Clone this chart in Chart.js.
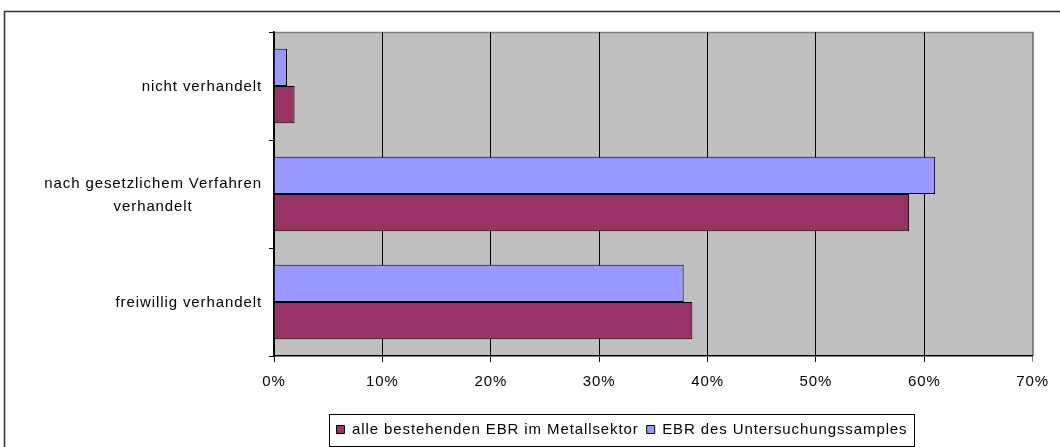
<!DOCTYPE html>
<html>
<head>
<meta charset="utf-8">
<script src="https://cdn.jsdelivr.net/npm/chart.js@4"></script>
<style>
  html, body { margin: 0; padding: 0; background: #fff; overflow: hidden; }
  #chart { display: block; }
</style>
</head>
<body>
<canvas id="chart" width="1060" height="447"></canvas>
<script>
// Kategorien (von oben nach unten)
const categories = [
    'nicht verhandelt',
    ['nach gesetzlichem Verfahren', 'verhandelt'],
    'freiwillig verhandelt'
];

// Werte in Prozent
const sampleValues = [1.2, 61.0, 37.8];   // EBR des Untersuchungssamples
const sectorValues = [1.9, 58.6, 38.6];   // alle bestehenden EBR im Metallsektor

const xTicks = [0, 10, 20, 30, 40, 50, 60, 70];

const FONT = "'Liberation Sans', Arial, sans-serif";
const SIZE = 15;
const SPACING = '0.9px';

// Hintergrund, Rahmen, Beschriftungen
const excelLook = {
    id: 'excelLook',
    beforeLayout(chart) {
        chart.ctx.letterSpacing = SPACING;
    },
    beforeDraw(chart) {
        const ctx = chart.ctx;
        const a = chart.chartArea;
        ctx.save();
        // äußerer Rahmen
        ctx.strokeStyle = '#303030';
        ctx.lineWidth = 1.5;
        ctx.strokeRect(4.5, 11.5, 1200, 600);
        // Zeichenfläche
        ctx.fillStyle = '#c0c0c0';
        ctx.fillRect(a.left, a.top, a.right - a.left, a.bottom - a.top);
        ctx.strokeStyle = '#808080';
        ctx.lineWidth = 1.5;
        ctx.beginPath();
        ctx.moveTo(a.left, a.top + 0.5);
        ctx.lineTo(a.right + 0.5, a.top + 0.5);
        ctx.lineTo(a.right + 0.5, a.bottom);
        ctx.stroke();
        ctx.restore();
        chart.ctx.letterSpacing = SPACING;
    },
    afterDraw(chart) {
        const ctx = chart.ctx;
        const y = chart.scales.y;
        ctx.save();
        ctx.letterSpacing = SPACING;
        ctx.font = SIZE + 'px ' + FONT;
        ctx.fillStyle = '#000';
        ctx.textAlign = 'center';
        ctx.textBaseline = 'middle';
        categories.forEach((label, i) => {
            const lines = Array.isArray(label) ? label : [label];
            const w = Math.max(...lines.map(l => ctx.measureText(l).width));
            const cx = y.right - 12 - w / 2;
            const cy = y.getPixelForTick(i) + 1;
            lines.forEach((l, j) => {
                ctx.fillText(l, cx, cy + (j - (lines.length - 1) / 2) * 23);
            });
        });
        // Legendenrahmen
        const hb = chart.legend.legendHitBoxes;
        if (hb && hb.length) {
            const first = hb[0], last = hb[hb.length - 1];
            const mid = first.top + first.height / 2;
            ctx.strokeStyle = '#000';
            ctx.lineWidth = 1;
            const l = Math.round(first.left - 7) + 0.5;
            const r = Math.round(last.left + last.width + 6) + 0.5;
            ctx.strokeRect(l, Math.round(mid - 16) + 0.5, r - l, 32);
        }
        ctx.restore();
    }
};

new Chart(document.getElementById('chart'), {
    type: 'bar',
    data: {
        labels: categories,
        datasets: [{
            label: 'EBR des Untersuchungssamples',
            data: sampleValues,
            backgroundColor: '#9999ff',
            borderColor: '#000',
            borderWidth: 1
        }, {
            label: 'alle bestehenden EBR im Metallsektor',
            data: sectorValues,
            backgroundColor: '#993366',
            borderColor: '#000',
            borderWidth: 1
        }]
    },
    options: {
        indexAxis: 'y',
        responsive: false,
        animation: false,
        categoryPercentage: 0.69,
        barPercentage: 1.0,
        layout: { padding: { top: 32, left: 209, right: 25, bottom: 0 } },
        scales: {
            x: {
                min: 0,
                max: 70,
                afterBuildTicks: s => { s.ticks = xTicks.map(v => ({ value: v })); },
                afterFit: s => { s.height = 58; },
                ticks: {
                    color: '#000',
                    padding: 11,
                    font: { family: FONT, size: SIZE },
                    callback: v => v + '%'
                },
                grid: {
                    color: c => (c.tick && c.tick.value === 70) ? '#808080' : '#000',
                    lineWidth: 1,
                    tickLength: 6
                },
                border: { color: '#000', width: 1.5 }
            },
            y: {
                afterFit: s => { s.width = 65; },
                ticks: { display: false },
                grid: {
                    drawOnChartArea: false,
                    drawTicks: true,
                    tickLength: 5,
                    color: '#000'
                },
                border: { color: '#000', width: 1.5 }
            }
        },
        plugins: {
            legend: {
                position: 'bottom',
                reverse: true,
                labels: {
                    color: '#000',
                    boxWidth: 8,
                    boxHeight: 8,
                    padding: 8,
                    font: { family: FONT, size: SIZE }
                }
            },
            tooltip: { enabled: false }
        }
    },
    plugins: [excelLook]
});
</script>
</body>
</html>
